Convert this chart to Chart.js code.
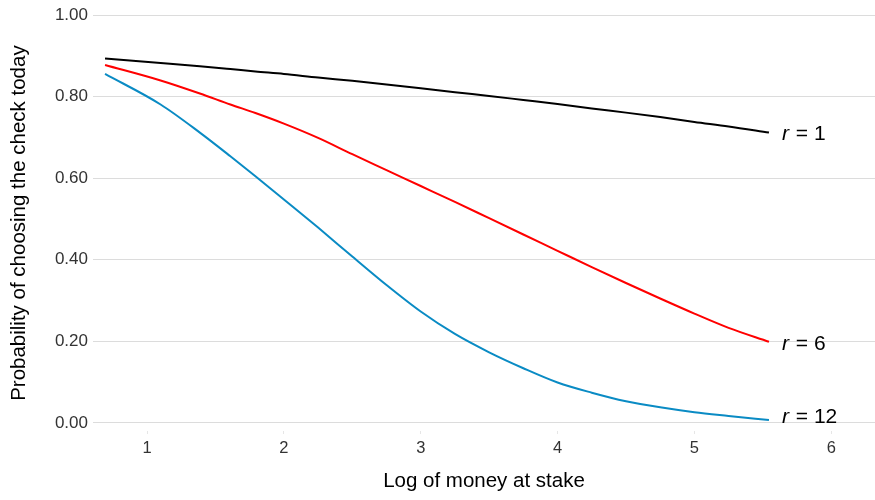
<!DOCTYPE html>
<html>
<head>
<meta charset="utf-8">
<script src="https://cdn.jsdelivr.net/npm/chart.js@4/dist/chart.umd.min.js"></script>
<style>
  body { margin: 0; background: #fff; }
  canvas { display: block; }
</style>
</head>
<body>
<canvas id="chart" width="875" height="500"></canvas>
<script>
// log of money at stake
const logMoney = [0.693, 1.099, 1.386, 1.609, 1.792, 2.0, 2.25, 2.5, 2.75, 3.0, 3.25, 3.5, 3.75, 4.0, 4.25, 4.5, 4.75, 5.0, 5.25, 5.545];

// probability of choosing the check today, one list per r
const probR1  = [0.894, 0.883, 0.875, 0.868, 0.862, 0.856, 0.847, 0.839, 0.830, 0.821, 0.811, 0.802, 0.792, 0.782, 0.771, 0.761, 0.750, 0.738, 0.727, 0.712];
const probR6  = [0.878, 0.840, 0.808, 0.781, 0.760, 0.734, 0.699, 0.659, 0.620, 0.581, 0.542, 0.502, 0.462, 0.422, 0.382, 0.343, 0.305, 0.268, 0.233, 0.199];
const probR12 = [0.856, 0.781, 0.712, 0.654, 0.605, 0.548, 0.479, 0.408, 0.338, 0.273, 0.218, 0.173, 0.134, 0.099, 0.074, 0.053, 0.038, 0.026, 0.017, 0.007];

const rValues = [1, 6, 12];
const xTicks = [1, 2, 3, 4, 5, 6];
const yTicks = [0, 0.2, 0.4, 0.6, 0.8, 1.0];

const FONT = '"Liberation Sans", Arial, sans-serif';

function toPoints(ys) {
  return logMoney.map((x, i) => ({ x: x, y: ys[i] }));
}

// "r = n" written next to the last point of each line
const endLabels = {
  id: 'endLabels',
  afterDatasetsDraw(chart) {
    const ctx = chart.ctx;
    chart.data.datasets.forEach((ds, i) => {
      const meta = chart.getDatasetMeta(i);
      const pt = meta.data[meta.data.length - 1];
      const y = Math.min(pt.y + 2, chart.chartArea.bottom - 14);
      let x = pt.x + 13;
      ctx.save();
      ctx.fillStyle = '#000';
      ctx.textBaseline = 'middle';
      ctx.font = 'italic 21px ' + FONT;
      ctx.fillText('r', x, y);
      x += ctx.measureText('r').width + 1;
      ctx.font = '21px ' + FONT;
      ctx.fillText(' = ' + rValues[i], x, y);
      ctx.restore();
    });
  }
};

const ctx = document.getElementById('chart').getContext('2d');
const chart = new Chart(ctx, {
  type: 'line',
  data: {
    datasets: [
      { label: 'r = 1',  data: toPoints(probR1),  borderColor: '#000000' },
      { label: 'r = 6',  data: toPoints(probR6),  borderColor: '#ff0000' },
      { label: 'r = 12', data: toPoints(probR12), borderColor: '#0a8bc4' }
    ]
  },
  options: {
    responsive: false,
    animation: false,
    layout: { padding: { top: 12, right: 0, bottom: 0, left: 0 } },
    elements: {
      point: { radius: 0 },
      line: { borderWidth: 2, cubicInterpolationMode: 'monotone', fill: false }
    },
    plugins: {
      legend: { display: false },
      tooltip: { enabled: false }
    },
    scales: {
      x: {
        type: 'linear',
        min: 0.605,
        max: 6.32,
        afterBuildTicks: (scale) => { scale.ticks = xTicks.map(v => ({ value: v })); },
        afterFit: (scale) => { scale.height = 69; },
        border: { display: false },
        grid: { drawOnChartArea: false, drawTicks: true, tickLength: 3, color: '#e6e6e6' },
        ticks: {
          padding: 5,
          color: '#333333',
          font: { family: FONT, size: 16.5 },
          maxRotation: 0
        },
        title: {
          display: true,
          text: 'Log of money at stake',
          color: '#000',
          font: { family: FONT, size: 20.5 },
          padding: { top: 0, bottom: 6 }
        }
      },
      y: {
        min: -0.02,
        max: 1.0,
        afterBuildTicks: (scale) => { scale.ticks = yTicks.map(v => ({ value: v })); },
        afterFit: (scale) => { scale.width = 93; },
        border: { display: false },
        grid: { color: '#dcdcdc', lineWidth: 1, drawTicks: false },
        ticks: {
          padding: 5,
          color: '#333333',
          font: { family: FONT, size: 17 },
          callback: (v) => v.toFixed(2)
        },
        title: {
          display: true,
          text: 'Probability of choosing the check today',
          color: '#000',
          font: { family: FONT, size: 20.5 },
          padding: { top: 7, bottom: 0 }
        }
      }
    }
  },
  plugins: [endLabels]
});
</script>
</body>
</html>
